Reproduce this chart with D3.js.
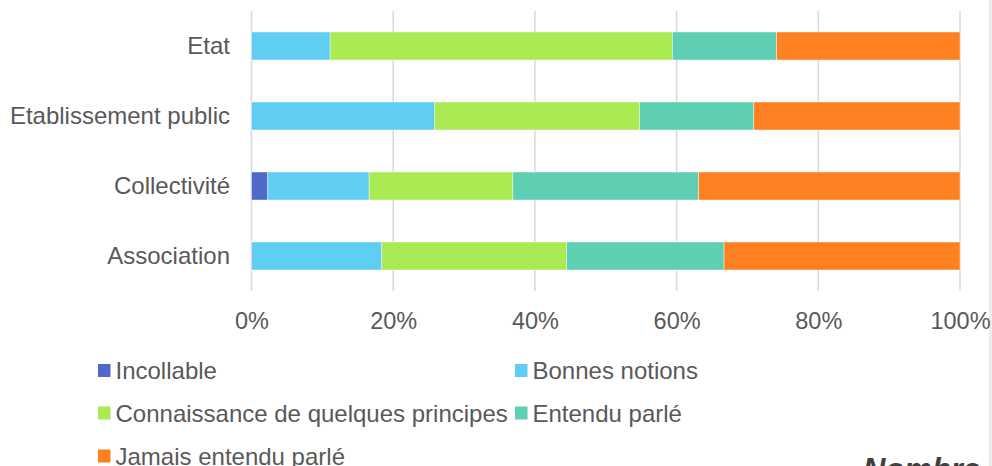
<!DOCTYPE html>
<html>
<head>
<meta charset="utf-8">
<script src="https://cdn.jsdelivr.net/npm/d3@7"></script>
<style>
  html, body { margin: 0; padding: 0; background: #fff; }
  svg { display: block; }
  text { font-family: "Liberation Sans", Arial, sans-serif; }
</style>
</head>
<body>
<svg id="chart" width="992" height="466"></svg>
<script>
const categories = ["Etat", "Etablissement public", "Collectivité", "Association"];
const seriesNames = ["Incollable", "Bonnes notions", "Connaissance de quelques principes", "Entendu parlé", "Jamais entendu parlé"];
const incollable   = [0,    0,    2.3,  0];
const bonnesNotions = [11.1, 25.8, 14.3, 18.4];
const connaissance = [48.3, 29.0, 20.3, 26.1];
const entenduParle = [14.7, 16.1, 26.2, 22.2];
const jamais       = [25.9, 29.1, 36.9, 33.3];
const tickValues = [0, 0.2, 0.4, 0.6, 0.8, 1];
const colors = ["#5068C8", "#60CDF3", "#AAEB54", "#5ECFB3", "#FE8020"];

const seriesValues = [incollable, bonnesNotions, connaissance, entenduParle, jamais];
const rows = categories.map((c, i) => {
  const total = d3.sum(seriesValues, s => s[i]);
  const r = { cat: c };
  seriesNames.forEach((n, k) => r[n] = seriesValues[k][i] / total);
  return r;
});

const svg = d3.select("#chart");
const x = d3.scaleLinear().domain([0, 1]).range([251.5, 960]);
const y = d3.scaleBand().domain(categories).range([11, 291]).paddingInner(0.6).paddingOuter(0.3);
const color = d3.scaleOrdinal().domain(seriesNames).range(colors);

// right panel edge
svg.append("rect").attr("x", 989).attr("y", 0).attr("width", 3).attr("height", 466).attr("fill", "#ececec");

// gridlines
svg.append("g").selectAll("line").data(tickValues).join("line")
  .attr("x1", d => x(d)).attr("x2", d => x(d))
  .attr("y1", 11).attr("y2", 291)
  .attr("stroke", "#d9d9d9").attr("stroke-width", 1.5);

// bars
const stacked = d3.stack().keys(seriesNames)(rows);
svg.append("g").selectAll("g").data(stacked).join("g")
  .attr("fill", d => color(d.key))
  .selectAll("rect").data(d => d).join("rect")
  .attr("x", d => x(d[0]))
  .attr("y", d => y(d.data.cat))
  .attr("width", d => Math.max(0, x(d[1]) - x(d[0])))
  .attr("height", y.bandwidth())
  .attr("stroke", "#ffffff").attr("stroke-width", 0.6)
  .attr("stroke-opacity", 0.7);

// x axis labels
const xAxis = d3.axisBottom(x).tickValues(tickValues).tickFormat(d3.format(".0%")).tickSize(0).tickPadding(0);
const gx = svg.append("g").attr("transform", "translate(0,312)").call(xAxis);
gx.select(".domain").remove();
gx.selectAll("text").attr("font-size", 23.5).attr("fill", "#595959")
  .attr("font-family", "'Liberation Sans', Arial, sans-serif").attr("dy", "0.71em");

// y axis labels
const yAxis = d3.axisLeft(y).tickSize(0).tickPadding(21.5);
const gy = svg.append("g").attr("transform", "translate(251.5,0)").call(yAxis);
gy.select(".domain").remove();
gy.selectAll("text").attr("font-size", 24).attr("fill", "#595959")
  .attr("font-family", "'Liberation Sans', Arial, sans-serif");

// legend
const legendPos = [
  { x: 98, y: 370.5 }, { x: 515, y: 370.5 },
  { x: 98, y: 413 }, { x: 515, y: 413 },
  { x: 98, y: 456 }
];
const lg = svg.append("g").selectAll("g").data(seriesNames).join("g")
  .attr("transform", (d, i) => `translate(${legendPos[i].x},${legendPos[i].y})`);
lg.append("rect").attr("x", 0).attr("y", -6.5).attr("width", 12.5).attr("height", 13)
  .attr("fill", d => color(d));
lg.append("text").attr("x", 17.5).attr("y", 0).attr("dy", "0.36em")
  .attr("font-size", 24).attr("fill", "#595959").text(d => d);

// cut-off title of next element
svg.append("text").attr("x", 863).attr("y", 480)
  .attr("font-size", 31).attr("font-weight", "bold").attr("font-style", "italic")
  .attr("fill", "#404040").text("Nombre");
</script>
</body>
</html>
